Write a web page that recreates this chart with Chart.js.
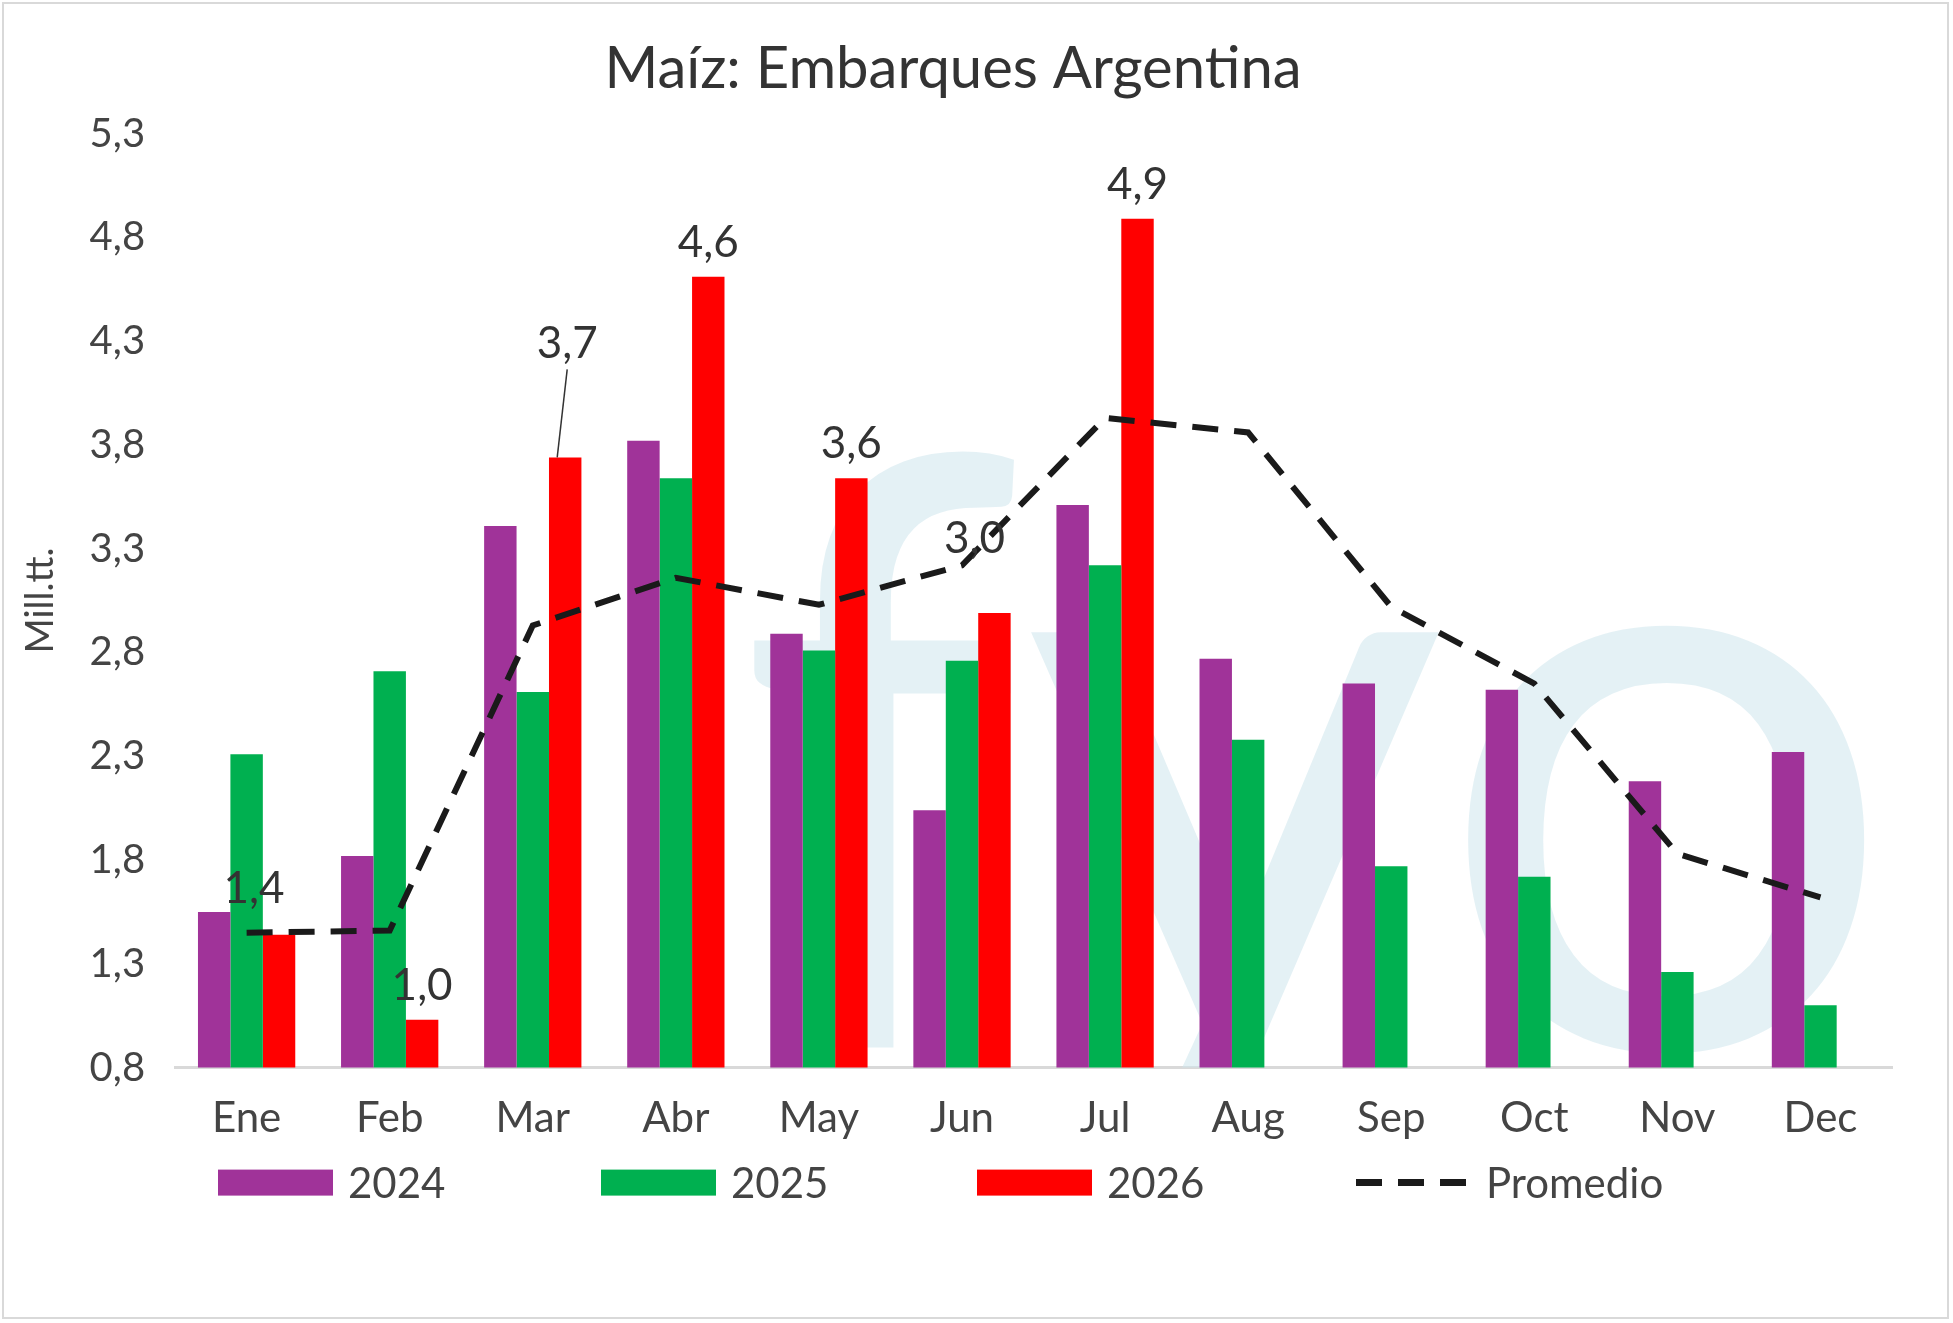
<!DOCTYPE html>
<html><head><meta charset="utf-8">
<script src="https://cdn.jsdelivr.net/npm/chart.js@4/dist/chart.umd.min.js"></script>
<style>
html,body{margin:0;padding:0;background:#fff;}
#wrap{position:absolute;left:2px;top:2px;width:1947px;height:1317px;border:2px solid #d9d9d9;box-sizing:border-box;}
</style></head><body>
<div id="wrap"><canvas id="c"></canvas></div>
<script>
// Data
const months = ['Ene','Feb','Mar','Abr','May','Jun','Jul','Aug','Sep','Oct','Nov','Dec'];
const y2024 = [1.55,1.82,3.41,3.82,2.89,2.04,3.51,2.77,2.65,2.62,2.18,2.32];
const y2025 = [2.31,2.71,2.61,3.64,2.81,2.76,3.22,2.38,1.77,1.72,1.26,1.10];
const y2026 = [1.44,1.03,3.74,4.61,3.64,2.99,4.89,null,null,null,null,null];
const promedio = [1.45,1.46,2.93,3.16,3.03,3.22,3.93,3.86,3.02,2.65,1.83,1.62];

const FONT = 'Lato, "Open Sans", sans-serif';
const fmt = v => v.toFixed(1).replace('.', ',');

// faint watermark behind the bars
const watermark = {
    id: 'watermark',
    beforeDatasetsDraw(chart) {
        const { ctx, chartArea: a } = chart;
        ctx.save();
        ctx.beginPath();
        ctx.rect(a.left, a.top, a.right - a.left, a.bottom - a.top);
        ctx.clip();
        ctx.fillStyle = 'rgba(205,229,236,0.55)';
        ctx.font = '820px ' + FONT;
        ctx.textBaseline = 'alphabetic';
        ctx.fillText('fyo', a.left + 560, a.bottom - 20);
        ctx.restore();
    }
};

// value labels above the 2026 bars
const redLabels = {
    id: 'redLabels',
    afterDatasetsDraw(chart) {
        const { ctx } = chart;
        const meta = chart.getDatasetMeta(2);
        ctx.save();
        ctx.fillStyle = '#333';
        ctx.font = '44px ' + FONT;
        ctx.textAlign = 'center';
        ctx.textBaseline = 'bottom';
        meta.data.forEach((bar, i) => {
            const v = y2026[i];
            if (v == null) return;
            let x = bar.x, y = bar.y - 12;
            if (i === 0) { x -= 25; y -= 12; }
            if (i === 2) { y -= 80; ctx.strokeStyle = '#333'; ctx.lineWidth = 1.5;
                ctx.beginPath(); ctx.moveTo(bar.x + 2, y + 4); ctx.lineTo(bar.x - 8, bar.y); ctx.stroke(); x += 2; }
            if (i === 5) { x -= 20; y -= 40; }
            ctx.fillText(fmt(v), x, y);
        });
        ctx.restore();
    }
};

// legend drawn under the x labels, spread across the width
const bottomLegend = {
    id: 'bottomLegend',
    afterDraw(chart) {
        const { ctx, chartArea: a } = chart;
        const y = a.bottom + 115;
        const starts = [214, 597, 973, 1352];
        const ds = chart.data.datasets;
        ctx.save();
        ctx.font = '42px ' + FONT;
        ctx.textBaseline = 'middle';
        ds.forEach((d, i) => {
            const x = starts[i];
            if (d.type === 'line') {
                ctx.strokeStyle = '#1a1a1a'; ctx.lineWidth = 7; ctx.setLineDash([26, 16]);
                ctx.beginPath(); ctx.moveTo(x, y); ctx.lineTo(x + 115, y); ctx.stroke();
                ctx.setLineDash([]);
            } else {
                ctx.fillStyle = d.backgroundColor;
                ctx.fillRect(x, y - 13, 115, 26);
            }
            ctx.fillStyle = '#444';
            ctx.fillText(d.label, x + 130, y + 2);
        });
        ctx.restore();
    }
};

const barOpts = { order: 2, barPercentage: 1, categoryPercentage: 0.68 };

new Chart(document.getElementById('c'), {
    data: {
        labels: months,
        datasets: [
            { type: 'bar', label: '2024', data: y2024, backgroundColor: '#a03399', ...barOpts },
            { type: 'bar', label: '2025', data: y2025, backgroundColor: '#00b050', ...barOpts },
            { type: 'bar', label: '2026', data: y2026, backgroundColor: '#ff0000', ...barOpts },
            { type: 'line', label: 'Promedio', data: promedio, borderColor: '#1a1a1a',
              borderWidth: 6, borderDash: [26, 16], pointRadius: 0, tension: 0, order: 1 }
        ]
    },
    options: {
        responsive: true, maintainAspectRatio: false, animation: false,
        layout: { padding: { left: 10, right: 55, top: 10, bottom: 155 } },
        plugins: {
            title: { display: true, text: 'Maíz: Embarques Argentina', color: '#333',
                font: { family: FONT, size: 58, weight: 'normal' }, padding: { top: 20, bottom: 30 } },
            legend: { display: false },
            tooltip: { enabled: false }
        },
        scales: {
            x: { grid: { display: false }, border: { color: '#d9d9d9', width: 3 },
                ticks: { color: '#444', font: { family: FONT, size: 42 }, padding: 18 } },
            y: { min: 0.8, max: 5.3, grid: { display: false }, border: { display: false },
                afterBuildTicks(axis) { const t = []; for (let v = 0.8; v <= 5.31; v += 0.5) t.push({ value: +v.toFixed(1) }); axis.ticks = t; },
                ticks: { color: '#444', font: { family: FONT, size: 40 }, padding: 22, callback: v => fmt(v) },
                title: { display: true, text: 'Mill.tt.', color: '#444', font: { family: FONT, size: 38 } } }
        }
    },
    plugins: [watermark, redLabels, bottomLegend]
});
</script>
</body></html>
